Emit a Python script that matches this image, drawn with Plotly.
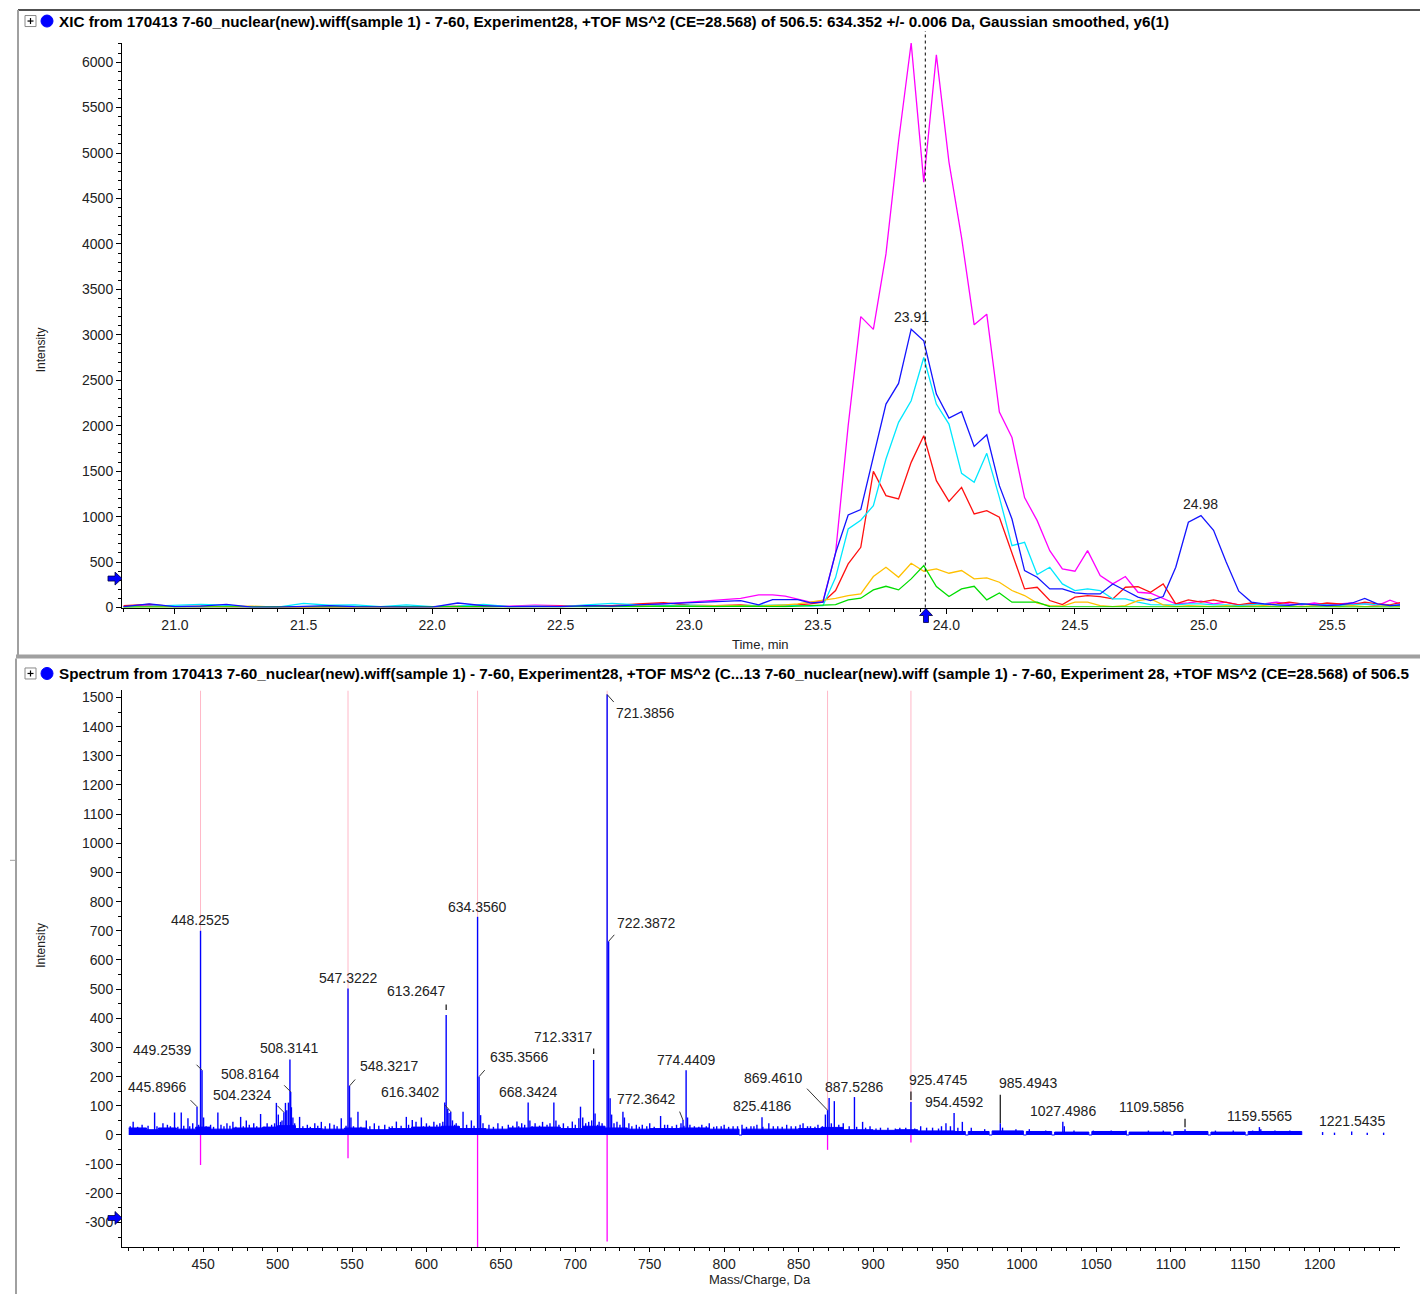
import plotly.graph_objects as go

# The page is photographed at 1428x1294, but the viewport is a little taller (~1302 px)
# and gets squeezed vertically; the body also has an 8px margin.  px()/py() map
# reference pixel positions to paper fractions taking both into account.
W, H = 1428, 1294
VIEW_H = 1302
SY = VIEW_H / H
OFF = 8
FIG_W, FIG_H = W - 2 * OFF, VIEW_H - 2 * OFF

# ---------------- XIC (top panel) ----------------
XIC_TIME = [
    20.80, 20.90, 21.00, 21.10, 21.20, 21.30, 21.40, 21.50, 21.60, 21.70,
    21.80, 21.90, 22.00, 22.10, 22.20, 22.30, 22.40, 22.50, 22.60, 22.70,
    22.80, 22.90, 23.00, 23.10, 23.20, 23.27,
    23.324, 23.373, 23.422, 23.471, 23.520, 23.569, 23.618, 23.667, 23.716, 23.765,
    23.814, 23.863, 23.912, 23.961, 24.010, 24.059, 24.108, 24.157, 24.206, 24.255,
    24.304, 24.353, 24.402, 24.451, 24.500, 24.549, 24.598, 24.647, 24.696, 24.745,
    24.794, 24.843, 24.892, 24.941, 24.990, 25.039, 25.088, 25.137, 25.186, 25.235,
    25.284, 25.333, 25.382, 25.431, 25.480, 25.529, 25.578, 25.627, 25.676, 25.725,
    25.774,
]
XIC_MAGENTA = [
    10, 25, 10, 5, 10, 5, 5, 5, 5, 10, 5, 5, 5, 10, 5, 15, 25, 20, 10, 20,
    30, 40, 60, 80, 100, 140,
    140, 125, 90, 60, 70, 600, 2000, 3200, 3060, 3890,
    5130, 6210, 4680, 6080, 4900, 4070, 3110, 3227, 2150, 1870,
    1210, 956, 626, 425, 399, 626, 352, 260, 341, 168,
    157, 100, 40, 50, 70, 40, 60, 30, 30, 40,
    60, 40, 30, 50, 30, 40, 50, 40, 20, 80,
    30,
]
XIC_BLUE = [
    10, 40, 10, 15, 35, 5, 5, 10, 20, 10, 5, 5, 5, 50, 20, 10, 10, 10, 20, 15,
    30, 40, 50, 60, 75, 30,
    88, 88, 88, 51, 59, 600, 1018, 1077, 1650, 2238,
    2465, 3062, 2934, 2348, 2084, 2154, 1773, 1901, 1341, 974,
    407, 333, 205, 205, 161, 150, 150, 260, 187, 114,
    77, 121, 443, 938, 1011, 850, 500, 180, 60, 40,
    30, 25, 40, 30, 20, 30, 50, 100, 40, 20,
    30,
]
XIC_CYAN = [
    5, 15, 25, 35, 25, 5, 5, 45, 25, 30, 10, 30, 10, 15, 35, 10, 15, 10, 30, 45,
    30, 20, 25, 15, 20, 25,
    30, 30, 20, 15, 20, 330, 864, 960, 1121, 1634,
    2037, 2275, 2751, 2238, 2018, 1476, 1377, 1696, 1212, 681,
    718, 363, 443, 260, 187, 205, 187, 95, 95, 59,
    33, 30, 30, 40, 40, 30, 30, 20, 30, 40,
    30, 20, 40, 30, 30, 20, 30, 40, 30, 20,
    30,
]
XIC_RED = [
    20, 35, 10, 15, 10, 5, 5, 5, 5, 5, 5, 5, 10, 15, 20, 10, 10, 15, 20, 20,
    40, 55, 25, 20, 30, 15,
    20, 20, 30, 40, 59, 187, 480, 663, 1498, 1231,
    1194, 1597, 1890, 1396, 1168, 1322, 1029, 1066, 993, 590,
    205, 223, 77, 33, 114, 132, 121, 95, 223, 231,
    168, 260, 40, 84, 59, 84, 60, 30, 50, 30,
    40, 60, 40, 30, 50, 40, 30, 60, 40, 30,
    60,
]
XIC_YELLOW = [
    5, 5, 5, 5, 10, 15, 5, 5, 5, 5, 5, 5, 5, 10, 10, 5, 5, 10, 15, 10,
    20, 10, 15, 20, 20, 15,
    20, 30, 40, 59, 77, 100, 132, 150, 341, 443,
    333, 487, 399, 425, 377, 407, 315, 326, 278, 187,
    132, 48, 22, 15, 59, 59, 20, 10, 20, 77,
    95, 30, 10, 20, 15, 10, 20, 10, 15, 20,
    10, 15, 10, 20, 15, 10, 20, 10, 15, 20,
    10,
]
XIC_GREEN = [
    5, 5, 5, 5, 5, 5, 5, 5, 8, 5, 5, 5, 5, 10, 10, 5, 5, 5, 10, 5,
    10, 15, 10, 10, 15, 10,
    10, 10, 15, 20, 33, 33, 84, 103, 194, 234,
    194, 315, 461, 231, 121, 205, 234, 84, 161, 59,
    59, 59, 10, 10, 5, 5, 10, 5, 5, 5,
    5, 5, 5, 10, 5, 5, 5, 5, 10, 5,
    5, 5, 5, 5, 10, 5, 5, 5, 5, 10,
    5,
]
XIC_CURSOR_TIME = 23.918
XIC_APEX_TEXT = ["23.91", "24.98"]
XIC_APEX_TIME = [23.863, 24.990]
XIC_APEX_INT = [3062, 1011]

# ---------------- Spectrum (bottom panel) ----------------
LABEL_MZ = [
    445.8966, 448.2525, 449.2539, 504.2324, 508.3141, 508.8164, 547.3222, 548.3217,
    613.2647, 616.3402, 634.3560, 635.3566, 668.3424, 712.3317, 721.3856, 722.3872,
    772.3642, 774.4409, 825.4186, 869.4610, 887.5286, 925.4745, 954.4592, 985.4943,
    1027.4986, 1109.5856, 1159.5565, 1221.5435,
]
LABEL_INT = [
    97, 700, 222, 78, 259, 148, 502, 168,
    411, 80, 748, 200, 111, 257, 1510, 664,
    51, 222, 61, 85, 130, 113, 75, 40,
    45, 20, 27, 12,
]
MINOR_MZ = [
    403, 409, 417.4, 423, 430.8, 435.3, 439.8, 443, 450.3, 455, 459.9, 466, 470,
    475.2, 479, 484, 488.6, 493, 499.2, 500.5, 505.3, 506.2, 507.3, 509.3, 510.3,
    514.8, 520, 525, 529.4, 535, 542.8, 549.3, 554, 559.6, 565, 572, 579.8, 586.5,
    590.5, 593, 596.6, 600, 605, 612.3, 614.3, 615.2, 617.5, 620, 624.6, 630.2,
    636.4, 642, 648, 655, 660.8, 664, 669.5, 673, 678, 685.6, 687, 692, 698,
    702.4, 703.5, 705, 713.3, 716, 723.4, 724.4, 728, 732, 733, 736, 741, 745,
    750, 757.3, 762, 768, 771, 775.4, 780, 785, 790, 795, 800, 806, 812, 818,
    822, 830, 836, 842, 848, 853, 858, 863, 868, 870.5, 874, 880, 893, 898, 905,
    918, 932, 940, 946, 949, 960, 966, 975, 987, 996, 1005, 1016, 1028.5, 1035,
    1048, 1060, 1070, 1085, 1095, 1115, 1130, 1142, 1155, 1160.5, 1170, 1180,
    1202, 1210, 1232, 1243,
]
MINOR_INT = [
    45, 35, 77, 40, 77, 77, 57, 40, 60, 35, 77, 40, 45,
    62, 50, 40, 72, 40, 110, 70, 110, 85, 111, 95, 60,
    62, 35, 40, 45, 40, 57, 60, 80, 50, 40, 35, 46, 62,
    51, 45, 60, 40, 45, 111, 90, 75, 50, 40, 80, 50,
    68, 35, 40, 35, 46, 40, 50, 40, 45, 111, 50, 40, 46,
    57, 97, 60, 74, 45, 126, 70, 45, 80, 60, 40, 35, 35,
    40, 65, 35, 35, 40, 60, 30, 35, 40, 30, 35, 30, 35, 30,
    35, 40, 30, 35, 30, 40, 30, 35, 70, 127, 116, 40, 45, 30, 25,
    25, 30, 25, 30, 40, 45, 25, 20, 25, 20, 20, 15, 30, 15,
    15, 15, 15, 15, 15, 12, 15, 15, 15, 20, 15, 15,
    10, 8, 8, 8,
]
# dense low-level noise spikes sitting on the baseline band
FLOOR_MZ = [
    401, 406, 413, 419, 426, 428, 433, 437, 441, 447, 452, 457, 462, 464, 468,
    472, 477, 481, 486, 491, 496, 498, 502, 503, 511.5, 517, 522, 527, 532, 538,
    540, 546, 551, 556, 562, 568, 575, 577, 583, 588, 598, 602, 607, 609, 611,
    619, 622, 627, 632, 638, 645, 651, 658, 662, 666, 671, 676, 681, 683, 689,
    695, 700, 707, 709, 711, 715, 718, 726, 730, 738, 743, 748, 753, 760, 765,
    773, 777, 783, 788, 793, 798, 803, 809, 815, 820, 826, 833, 839, 845, 851,
    856, 861, 866, 872, 877, 884, 889, 895, 902, 910, 915, 922, 928, 936, 944,
    952, 957,
]
FLOOR_INT = [
    30, 28, 32, 30, 35, 30, 28, 32, 30, 35, 30, 28, 35, 30, 32,
    28, 30, 35, 30, 28, 35, 40, 45, 50, 40, 30, 28, 32, 30, 35,
    30, 32, 30, 28, 30, 32, 28, 30, 32, 35, 30, 32, 35, 40, 45,
    35, 30, 35, 32, 40, 28, 30, 32, 30, 35, 30, 32, 35, 40, 35,
    30, 35, 40, 45, 50, 35, 40, 40, 35, 30, 28, 30, 28, 35, 30,
    32, 35, 28, 30, 28, 30, 28, 30, 28, 30, 28, 30, 28, 30, 35,
    30, 28, 30, 40, 35, 30, 28, 25, 22, 25, 22, 25, 22, 25, 22,
    30, 25,
]
NOISE_MZ = [
    400, 412, 420, 432, 445, 455, 470, 490, 500, 512, 530, 545, 560, 575, 590,
    610, 622, 640, 655, 670, 690, 705, 720, 735, 750, 770, 790, 810, 812, 835,
    850, 865, 880, 900, 915, 930, 955, 962, 964, 978, 980, 1001, 1003, 1020,
    1022, 1045, 1047, 1070, 1072, 1100, 1102, 1125, 1127, 1150, 1152, 1188,
]
NOISE_INT = [
    24, 18, 24, 20, 27, 20, 24, 27, 32, 22, 20, 24, 18, 22, 27,
    30, 22, 20, 24, 27, 22, 30, 24, 20, 22, 24, 20, 0, 20, 20,
    22, 26, 18, 16, 18, 14, 12, 0, 12, 0, 14, 0, 12, 0,
    10, 0, 12, 0, 10, 0, 12, 0, 10, 0, 12, 0,
]
REF_MZ = [448.2525, 547.3222, 634.3560, 721.3856, 869.4610, 925.4745]
REF_INT = [-103, -80, -400, -365, -51, -26]

# label placement: text offset (px from peak top, +down) and leader style
LABEL_STYLE = {
    "445.8966": (-40, -20, ("diag", -8, -8)),
    "448.2525": (0, -11, None),
    "449.2539": (-40, -20, ("diag", -7, -7)),
    "504.2324": (-41, -17, ("diag", -8, -8)),
    "508.3141": (0, -11, None),
    "508.8164": (-40, -18, ("diag", -8, -8)),
    "547.3222": (0, -11, None),
    "548.3217": (40, -20, ("diag", 7, -8)),
    "613.2647": (-30, -24, ("tick", 5, 12)),
    "616.3402": (-40, -20, ("diag", -7, -8)),
    "634.3560": (0, -10, None),
    "635.3566": (40, -20, ("diag", 7, -8)),
    "668.3424": (0, -11, None),
    "712.3317": (-30, -23, ("tick", 6, 13)),
    "721.3856": (38, 18, ("diag", 8, 9)),
    "722.3872": (38, -18, ("diag", 7, -8)),
    "772.3642": (-37, -21, ("diag", -4, -10)),
    "774.4409": (0, -10, None),
    "825.4186": (0, -11, None),
    "869.4610": (-54, -32, ("diag", -22, -23)),
    "887.5286": (0, -10, None),
    "925.4745": (28, -22, ("tick", 2, 12)),
    "954.4592": (0, -11, None),
    "985.4943": (28, -40, ("tick", 0, 30)),
    "1027.4986": (0, -11, None),
    "1109.5856": (-34, -22, ("tick", 2, 12)),
    "1159.5565": (0, -11, None),
    "1221.5435": (0, -10, None),
}

FONT = "Liberation Sans, Arial, sans-serif"
TOP_TITLE = ("XIC from 170413 7-60_nuclear(new).wiff(sample 1) - 7-60, Experiment28, "
             "+TOF MS^2 (CE=28.568) of 506.5: 634.352 +/- 0.006 Da, Gaussian smoothed, y6(1)")
BOTTOM_TITLE = ("Spectrum from 170413 7-60_nuclear(new).wiff(sample 1) - 7-60, Experiment28, "
                "+TOF MS^2 (C...13 7-60_nuclear(new).wiff (sample 1) - 7-60, Experiment 28, "
                "+TOF MS^2 (CE=28.568) of 506.5")


def px(x):
    return (x - OFF) / FIG_W


def py(y):
    return 1 - (y * SY - OFF) / FIG_H


def arrow_path(cx, cy, direction):
    # small block arrow, pixel centre -> paper path
    pts = [(-7, -2.5), (0, -2.5), (0, -6.5), (7, 0), (0, 6.5), (0, 2.5), (-7, 2.5)]
    if direction == "up":
        pts = [(b, -a) for a, b in pts]
    return "M " + " L ".join(f"{px(cx + a):.5f},{py(cy + b):.5f}" for a, b in pts) + " Z"


def paper_line(x0, y0, x1, y1, color, width, dash=None):
    line = dict(color=color, width=width)
    if dash:
        line["dash"] = dash
    return dict(type="line", xref="paper", yref="paper", x0=px(x0), x1=px(x1),
                y0=py(y0), y1=py(y1), line=line)


fig = go.Figure()

# ── XIC traces ──
for vals, color in [(XIC_MAGENTA, "#FF00FF"), (XIC_RED, "#FF1010"), (XIC_CYAN, "#00E8FF"),
                    (XIC_YELLOW, "#FFC000"), (XIC_GREEN, "#00DD00"), (XIC_BLUE, "#1414FF")]:
    fig.add_trace(go.Scatter(x=XIC_TIME, y=vals, mode="lines", xaxis="x", yaxis="y",
                             line=dict(color=color, width=1.3), hoverinfo="skip"))

# ── spectrum: reference (library) lines ──
ref_x, ref_up, ref_dn = [], [], []
for mz, v in zip(REF_MZ, REF_INT):
    ref_x += [mz, mz, None]
    ref_up += [0, 1524, None]
    ref_dn += [0, v, None]
fig.add_trace(go.Scatter(x=ref_x, y=ref_up, mode="lines", xaxis="x2", yaxis="y2",
                         line=dict(color="#FFB8C8", width=1), hoverinfo="skip"))
fig.add_trace(go.Scatter(x=ref_x, y=ref_dn, mode="lines", xaxis="x2", yaxis="y2",
                         line=dict(color="#FF00FF", width=1.3), hoverinfo="skip"))

# noise floor band
fig.add_trace(go.Scatter(x=NOISE_MZ, y=NOISE_INT, mode="lines", line_shape="hv",
                         xaxis="x2", yaxis="y2", fill="tozeroy", fillcolor="#0000FF",
                         line=dict(color="#0000FF", width=1), hoverinfo="skip"))

# sticks
st_x, st_y = [], []
peaks = (list(zip(FLOOR_MZ, FLOOR_INT)) + list(zip(MINOR_MZ, MINOR_INT))
         + list(zip(LABEL_MZ, LABEL_INT)))
for mz, v in peaks:
    st_x += [mz, mz, None]
    st_y += [0, v, None]
fig.add_trace(go.Scatter(x=st_x, y=st_y, mode="lines", xaxis="x2", yaxis="y2",
                         line=dict(color="#0000FF", width=1.4), hoverinfo="skip"))

annotations = []
shapes = []

# peak labels
for mz, v in zip(LABEL_MZ, LABEL_INT):
    txt = f"{mz:.4f}"
    dx, dy, leader = LABEL_STYLE[txt]
    annotations.append(dict(x=mz, y=v, xref="x2", yref="y2", text=txt, showarrow=False,
                            xshift=dx, yshift=-dy, font=dict(size=14, color="#222")))
    if leader is None:
        continue
    kind, a, b = leader
    if kind == "diag":
        annotations.append(dict(x=mz, y=v, xref="x2", yref="y2", text="", showarrow=True,
                                ax=a, ay=b, arrowhead=0, arrowwidth=1, arrowcolor="#333"))
    else:
        annotations.append(dict(x=mz, y=v, xref="x2", yref="y2", text="", showarrow=True,
                                ax=0, ay=-b, standoff=a, arrowhead=0, arrowwidth=1.3,
                                arrowcolor="#222"))

# XIC apex labels
for t, v, txt in zip(XIC_APEX_TIME, XIC_APEX_INT, XIC_APEX_TEXT):
    annotations.append(dict(x=t, y=v, xref="x", yref="y", text=txt, showarrow=False,
                            yanchor="bottom", yshift=2, font=dict(size=14, color="#222")))

# panel titles with the expand box and blue bullet
for ytop, txt in [(20, TOP_TITLE), (673, BOTTOM_TITLE)]:
    annotations.append(dict(x=px(57), y=py(ytop), xref="paper", yref="paper",
                            text=f"<b>{txt}</b>", showarrow=False, xanchor="left",
                            yanchor="middle", font=dict(size=15.25, color="#000")))
    shapes.append(dict(type="rect", xref="paper", yref="paper", x0=px(25), x1=px(36),
                       y0=py(ytop + 5.5), y1=py(ytop - 5.5), line=dict(color="#888", width=1)))
    shapes.append(paper_line(27.5, ytop, 33.5, ytop, "#000", 1.2))
    shapes.append(paper_line(30.5, ytop - 3, 30.5, ytop + 3, "#000", 1.2))
    shapes.append(dict(type="circle", xref="paper", yref="paper", x0=px(41), x1=px(53),
                       y0=py(ytop + 6), y1=py(ytop - 6), fillcolor="#0000FF",
                       line=dict(color="#0000FF", width=1)))

# axis titles
annotations += [
    dict(x=px(32), y=py(325), xref="paper", yref="paper", text="Intensity", textangle=-90,
         showarrow=False, font=dict(size=12, color="#222")),
    dict(x=px(32), y=py(970), xref="paper", yref="paper", text="Intensity", textangle=-90,
         showarrow=False, font=dict(size=12, color="#222")),
    dict(x=px(760), y=py(644), xref="paper", yref="paper", text="Time, min",
         showarrow=False, font=dict(size=13, color="#222")),
    dict(x=px(760), y=py(1280), xref="paper", yref="paper", text="Mass/Charge, Da",
         showarrow=False, yanchor="middle", font=dict(size=13, color="#222")),
]

# panel frames and cursor
shapes += [
    paper_line(18, 9, 1428, 9, "#505050", 2),
    paper_line(18, 9, 18, 655, "#A0A0A0", 2),
    paper_line(16, 656, 1428, 656, "#A0A0A0", 4),
    paper_line(16, 658, 16, 1300, "#A0A0A0", 2),
    paper_line(10, 860, 15, 860, "#A0A0A0", 1),
    dict(type="line", xref="x", yref="paper", x0=XIC_CURSOR_TIME, x1=XIC_CURSOR_TIME,
         y0=py(607), y1=py(30), line=dict(color="#000", width=1, dash="dot")),
]
# blue marker arrows
for cx, cy, d in [(115, 578, "right"), (926, 615, "up"), (115, 1218, "right")]:
    shapes.append(dict(type="path", xref="paper", yref="paper", path=arrow_path(cx, cy, d),
                       fillcolor="#0000FF", line=dict(color="#000040", width=0.8)))

axis_common = dict(showgrid=False, zeroline=False, showline=True, linecolor="#000",
                   linewidth=1, ticks="outside", ticklen=5, tickcolor="#000",
                   tickfont=dict(size=14, color="#222"))
yticks = list(range(-300, 1600, 100))
mzticks = list(range(450, 1250, 50))

fig.update_layout(
    width=FIG_W, height=FIG_H, margin=dict(l=0, r=0, t=0, b=0),
    paper_bgcolor="white", plot_bgcolor="white", showlegend=False,
    font=dict(family=FONT, size=14, color="#222"),
    xaxis=dict(domain=[px(122), px(1400)], range=[20.794, 25.764], anchor="y",
               tickmode="linear", tick0=21, dtick=0.5, tickformat=".1f",
               minor=dict(dtick=0.1, tick0=21, ticklen=3, ticks="outside", tickcolor="#000"),
               **axis_common),
    yaxis=dict(domain=[py(607), py(42)], range=[0, 6210], anchor="x",
               tickmode="linear", tick0=0, dtick=500,
               minor=dict(dtick=100, tick0=0, ticklen=3, ticks="outside", tickcolor="#000"),
               **axis_common),
    xaxis2=dict(domain=[px(122), px(1400)], range=[395.5, 1254], anchor="y2",
                tickmode="array", tickvals=mzticks, ticktext=[str(v) for v in mzticks],
                minor=dict(dtick=10, tick0=400, ticklen=3, ticks="outside", tickcolor="#000"),
                **axis_common),
    yaxis2=dict(domain=[py(1247), py(690)], range=[-384, 1524], anchor="x2",
                tickmode="array", tickvals=yticks, ticktext=[str(v) for v in yticks],
                minor=dict(dtick=50, tick0=0, ticklen=3, ticks="outside", tickcolor="#000"),
                **axis_common),
    annotations=annotations,
    shapes=shapes,
)
fig.update_xaxes(ticklen=4, selector=dict(anchor="y2"))

fig.write_html("out.html")
